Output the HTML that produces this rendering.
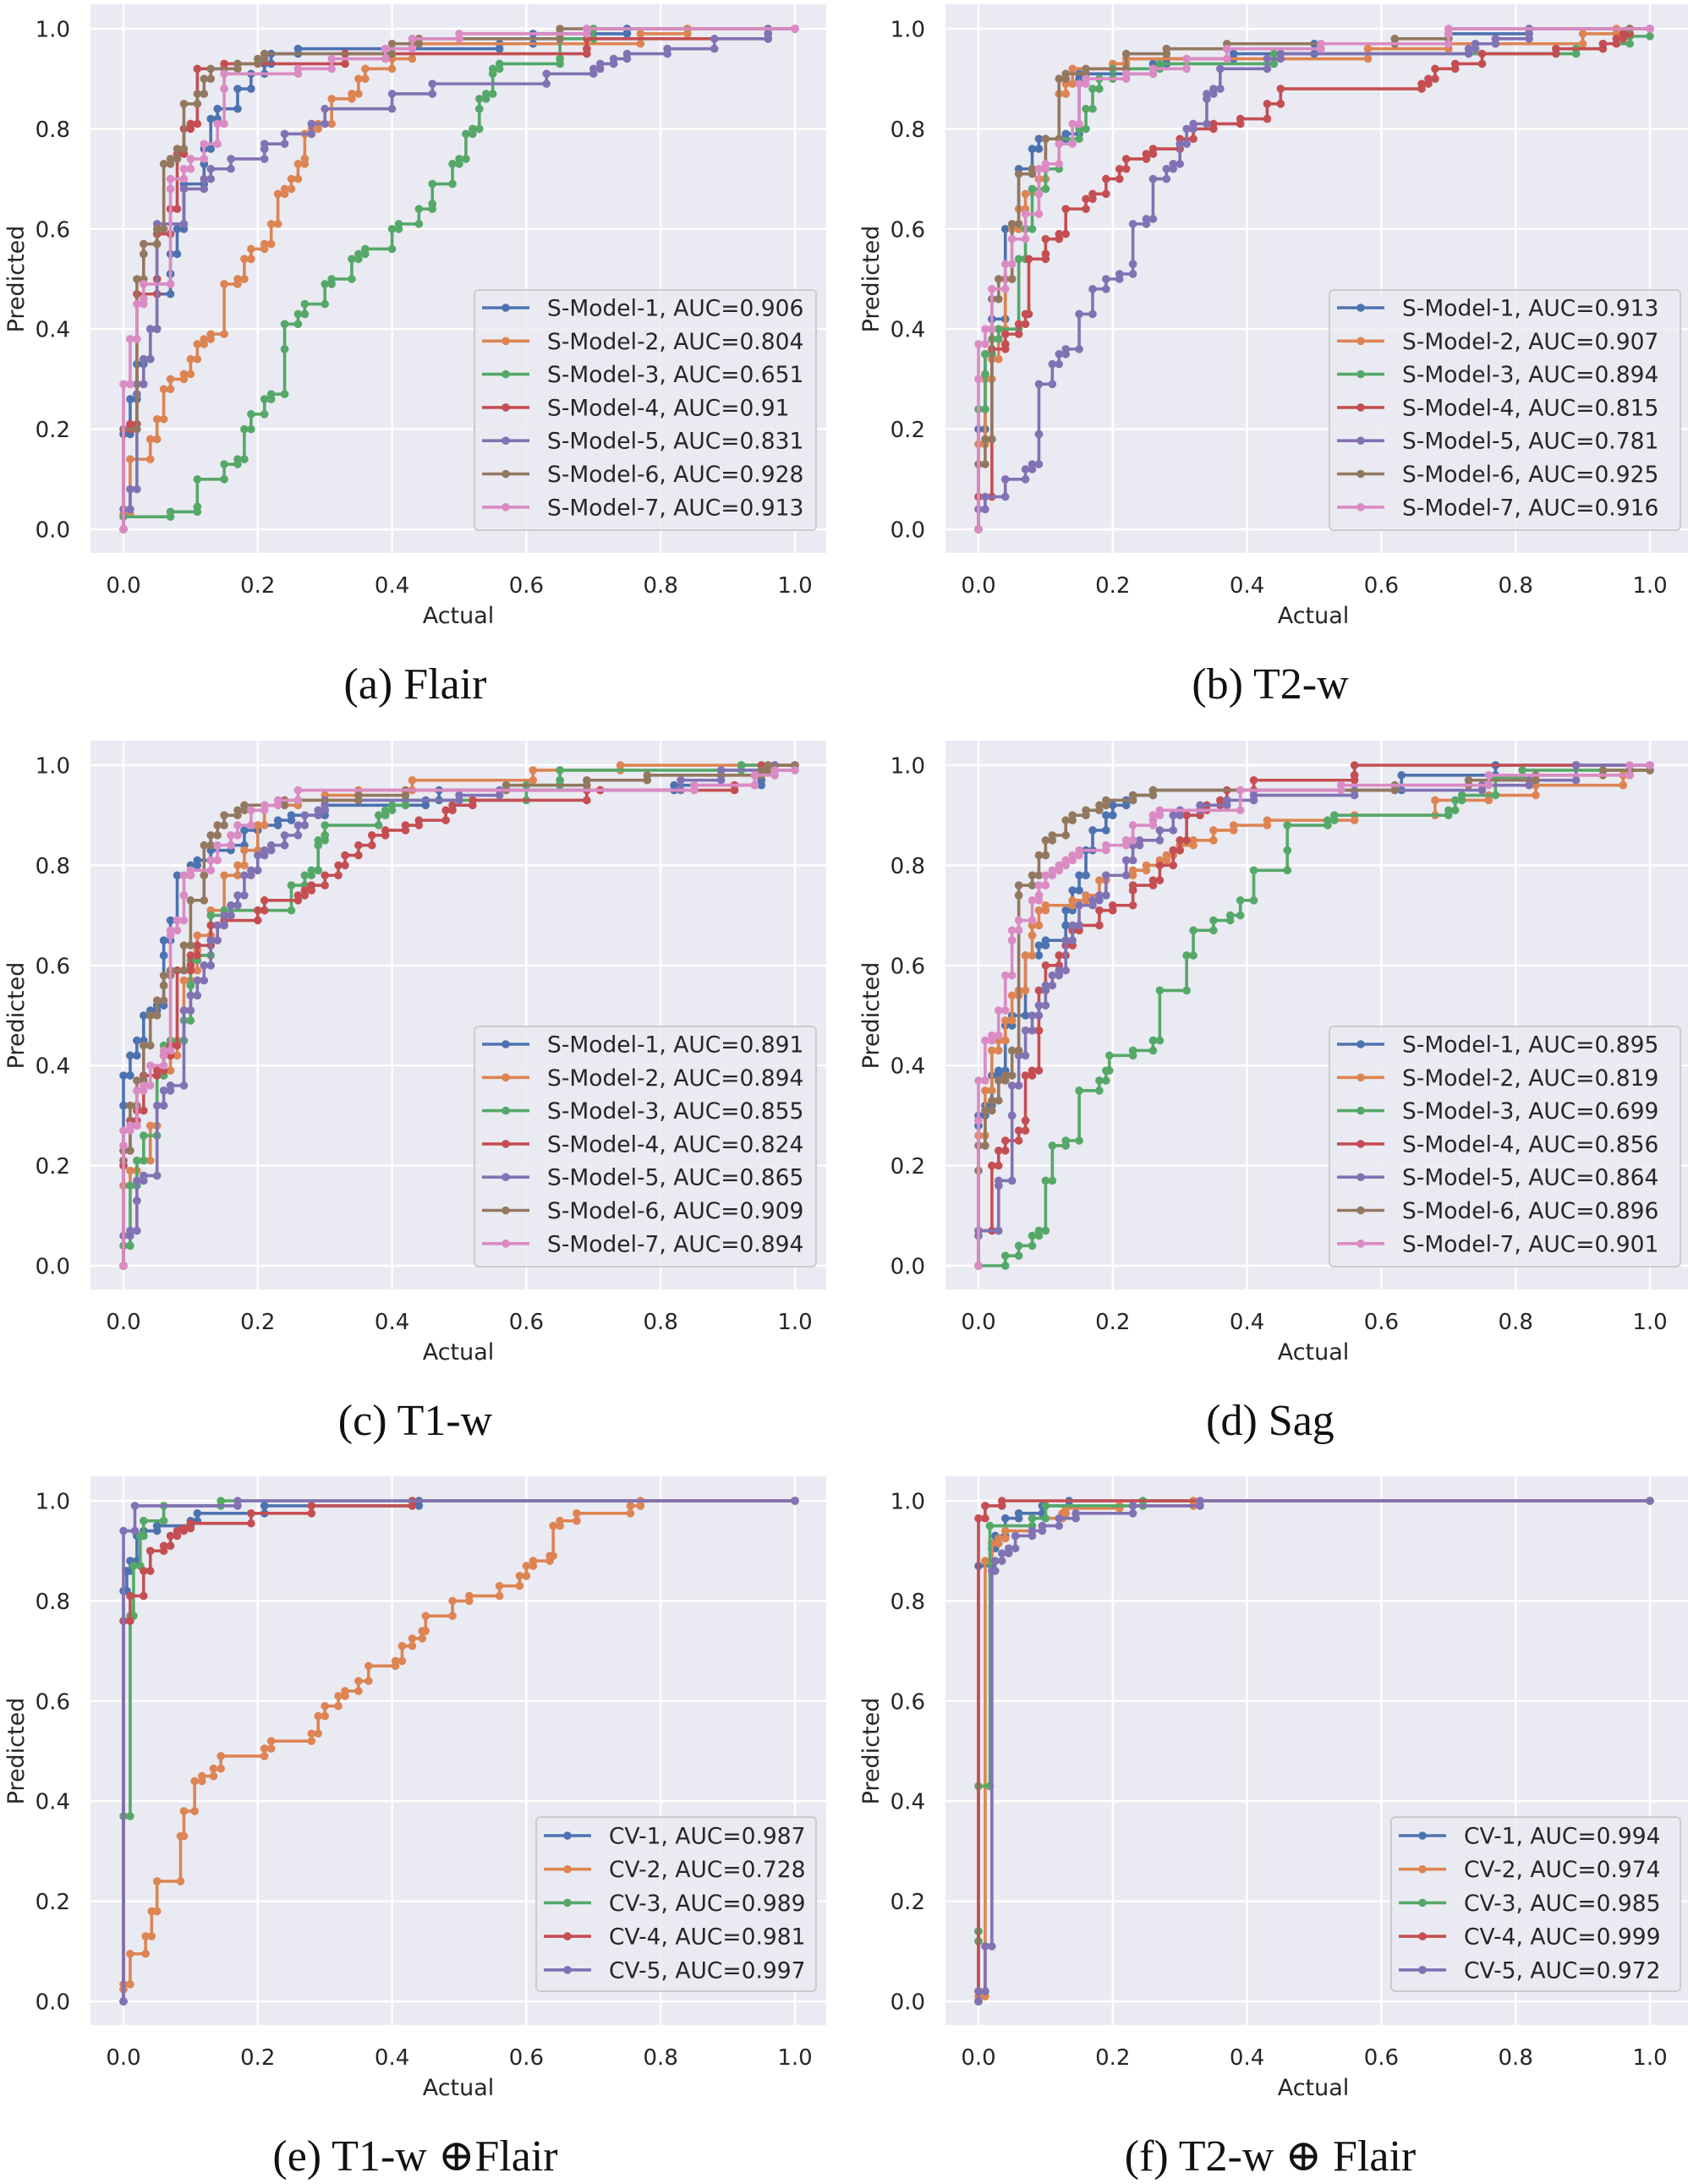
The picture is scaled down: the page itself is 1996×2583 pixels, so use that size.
<!DOCTYPE html>
<html><head><meta charset="utf-8"><title>ROC curves</title>
<style>html,body{margin:0;padding:0;background:#fff}svg{display:block}</style>
</head><body>
<svg id="fig" xmlns="http://www.w3.org/2000/svg" width="1996" height="2583" viewBox="0 0 1996 2583"></svg>
<script>
// ---- Panel (a) Flair ----
const flair_m1=[[0,0],[0.01,0.19],[0.02,0.26],[0.03,0.33],[0.04,0.34],[0.05,0.4],[0.07,0.47],[0.07,0.51],[0.08,0.55],[0.09,0.6],[0.12,0.69],[0.12,0.73],[0.13,0.76],[0.14,0.82],[0.17,0.84],[0.19,0.88],[0.21,0.91],[0.22,0.93],[0.26,0.95],[0.56,0.96],[0.61,0.97],[0.75,0.99],[0.75,1.0],[1,1]];
const flair_m2=[[0,0],[0.01,0.03],[0.04,0.14],[0.05,0.18],[0.06,0.22],[0.07,0.28],[0.09,0.3],[0.1,0.31],[0.11,0.34],[0.12,0.37],[0.13,0.38],[0.15,0.39],[0.17,0.49],[0.18,0.5],[0.19,0.54],[0.21,0.56],[0.22,0.57],[0.23,0.61],[0.24,0.67],[0.25,0.68],[0.26,0.7],[0.27,0.73],[0.27,0.74],[0.28,0.79],[0.29,0.8],[0.31,0.81],[0.34,0.86],[0.35,0.87],[0.36,0.9],[0.4,0.92],[0.43,0.94],[0.77,0.97],[0.84,0.99],[0.84,1.0],[1,1]];
const flair_m3=[[0,0],[0.07,0.025],[0.11,0.035],[0.11,0.045],[0.15,0.1],[0.17,0.13],[0.18,0.14],[0.19,0.2],[0.21,0.23],[0.22,0.26],[0.24,0.27],[0.24,0.36],[0.26,0.41],[0.27,0.43],[0.3,0.45],[0.31,0.49],[0.34,0.5],[0.35,0.54],[0.36,0.55],[0.4,0.56],[0.41,0.6],[0.44,0.61],[0.46,0.64],[0.46,0.65],[0.49,0.69],[0.5,0.73],[0.51,0.74],[0.52,0.79],[0.53,0.8],[0.53,0.84],[0.54,0.86],[0.55,0.87],[0.55,0.91],[0.56,0.92],[0.65,0.93],[0.65,0.94],[0.7,0.98],[1,1]];
const flair_m4=[[0,0],[0.01,0.2],[0.02,0.21],[0.05,0.47],[0.05,0.5],[0.07,0.59],[0.08,0.64],[0.09,0.75],[0.1,0.8],[0.11,0.81],[0.15,0.92],[0.33,0.93],[0.69,0.95],[0.69,0.96],[0.96,0.98],[0.96,0.99],[1,1]];
const flair_m5=[[0,0],[0.01,0.04],[0.02,0.08],[0.02,0.27],[0.03,0.29],[0.04,0.34],[0.05,0.4],[0.09,0.61],[0.12,0.68],[0.13,0.7],[0.16,0.72],[0.21,0.74],[0.21,0.76],[0.24,0.77],[0.28,0.79],[0.3,0.81],[0.4,0.84],[0.46,0.87],[0.63,0.89],[0.7,0.91],[0.71,0.92],[0.73,0.93],[0.75,0.94],[0.81,0.95],[0.88,0.96],[0.96,0.98],[0.96,0.99],[1,1]];
const flair_m6=[[0,0],[0.02,0.2],[0.03,0.5],[0.03,0.55],[0.05,0.57],[0.06,0.6],[0.07,0.73],[0.08,0.74],[0.09,0.76],[0.11,0.85],[0.12,0.87],[0.13,0.9],[0.17,0.92],[0.2,0.93],[0.21,0.94],[0.4,0.95],[0.44,0.97],[0.65,0.98],[0.65,0.99],[0.69,1.0],[1,1]];
const flair_m7=[[0,0],[0.01,0.29],[0.02,0.38],[0.03,0.45],[0.03,0.46],[0.07,0.49],[0.07,0.68],[0.09,0.7],[0.1,0.72],[0.12,0.74],[0.14,0.77],[0.15,0.81],[0.15,0.88],[0.26,0.91],[0.31,0.92],[0.39,0.94],[0.43,0.96],[0.5,0.98],[0.69,0.99],[0.69,1.0],[1,1]];
const flair_auc=["0.906","0.804","0.651","0.91","0.831","0.928","0.913"];
// ---- Panel (b) T2-w ----
const t2_m1=[[0,0],[0.01,0.2],[0.02,0.35],[0.04,0.42],[0.06,0.6],[0.08,0.72],[0.09,0.76],[0.13,0.78],[0.15,0.79],[0.15,0.9],[0.26,0.91],[0.28,0.93],[0.38,0.94],[0.5,0.95],[0.7,0.97],[0.7,0.98],[0.82,0.99],[1,1]];
const t2_m2=[[0,0],[0.01,0.17],[0.02,0.3],[0.03,0.34],[0.04,0.4],[0.05,0.5],[0.06,0.6],[0.07,0.64],[0.09,0.67],[0.1,0.7],[0.12,0.78],[0.13,0.87],[0.14,0.89],[0.2,0.92],[0.22,0.93],[0.58,0.94],[0.7,0.96],[0.9,0.97],[0.95,0.99],[1,1]];
const t2_m3=[[0,0],[0.01,0.24],[0.01,0.31],[0.02,0.35],[0.03,0.38],[0.06,0.4],[0.07,0.54],[0.08,0.6],[0.1,0.68],[0.12,0.72],[0.15,0.78],[0.16,0.8],[0.17,0.84],[0.18,0.88],[0.2,0.9],[0.27,0.92],[0.44,0.93],[0.89,0.95],[0.93,0.96],[0.97,0.97],[1,0.985]];
const t2_m4=[[0,0],[0.02,0.065],[0.04,0.36],[0.04,0.37],[0.06,0.39],[0.07,0.41],[0.075,0.43],[0.1,0.54],[0.1,0.55],[0.12,0.58],[0.13,0.59],[0.16,0.64],[0.17,0.66],[0.19,0.67],[0.21,0.7],[0.22,0.72],[0.25,0.74],[0.26,0.75],[0.3,0.76],[0.32,0.78],[0.35,0.8],[0.39,0.81],[0.43,0.82],[0.45,0.85],[0.66,0.88],[0.67,0.89],[0.68,0.9],[0.71,0.92],[0.75,0.93],[0.86,0.95],[0.93,0.96],[0.95,0.97],[0.96,0.98],[0.97,0.99],[1,1]];
const t2_m5=[[0,0],[0.01,0.04],[0.04,0.065],[0.07,0.1],[0.08,0.12],[0.09,0.13],[0.09,0.19],[0.11,0.29],[0.12,0.33],[0.13,0.35],[0.15,0.36],[0.17,0.43],[0.19,0.48],[0.21,0.5],[0.23,0.51],[0.23,0.53],[0.25,0.61],[0.26,0.62],[0.28,0.7],[0.29,0.72],[0.3,0.73],[0.31,0.77],[0.32,0.8],[0.34,0.81],[0.34,0.86],[0.35,0.87],[0.36,0.88],[0.43,0.92],[0.45,0.94],[0.73,0.95],[0.74,0.96],[0.77,0.97],[0.82,0.98],[0.82,0.99],[1,1]];
const t2_m6=[[0,0],[0.01,0.13],[0.02,0.18],[0.03,0.46],[0.05,0.5],[0.06,0.61],[0.08,0.71],[0.1,0.72],[0.12,0.78],[0.13,0.9],[0.16,0.91],[0.22,0.92],[0.28,0.95],[0.37,0.96],[0.62,0.97],[0.7,0.98],[0.7,0.99],[0.97,1.0],[1,1]];
const t2_m7=[[0,0],[0,0.3],[0.01,0.37],[0.02,0.4],[0.04,0.48],[0.05,0.53],[0.07,0.58],[0.09,0.63],[0.09,0.67],[0.1,0.72],[0.12,0.73],[0.14,0.77],[0.15,0.81],[0.16,0.89],[0.22,0.9],[0.26,0.91],[0.31,0.92],[0.37,0.94],[0.51,0.96],[0.7,0.97],[0.7,0.99],[1,1]];
const t2_auc=["0.913","0.907","0.894","0.815","0.781","0.925","0.916"];
// ---- Panel (c) T1-w ----
const t1_m1=[[0,0],[0,0.32],[0.01,0.38],[0.02,0.42],[0.03,0.45],[0.04,0.5],[0.05,0.51],[0.06,0.52],[0.06,0.62],[0.07,0.65],[0.08,0.69],[0.1,0.78],[0.11,0.8],[0.13,0.81],[0.16,0.83],[0.18,0.84],[0.2,0.87],[0.23,0.88],[0.25,0.89],[0.3,0.9],[0.3,0.91],[0.45,0.92],[0.47,0.93],[0.82,0.95],[0.95,0.96],[0.95,0.97],[1,0.99]];
const t1_m2=[[0,0],[0.01,0.16],[0.02,0.19],[0.04,0.21],[0.05,0.28],[0.06,0.38],[0.07,0.39],[0.08,0.42],[0.09,0.45],[0.1,0.57],[0.11,0.59],[0.11,0.63],[0.13,0.66],[0.15,0.71],[0.17,0.78],[0.18,0.8],[0.2,0.83],[0.21,0.88],[0.26,0.92],[0.3,0.93],[0.35,0.94],[0.43,0.95],[0.61,0.97],[0.74,0.99],[0.97,1.0],[1,1]];
const t1_m3=[[0,0],[0.01,0.04],[0.02,0.16],[0.03,0.21],[0.05,0.26],[0.06,0.38],[0.07,0.44],[0.09,0.45],[0.1,0.49],[0.1,0.56],[0.11,0.61],[0.13,0.62],[0.15,0.7],[0.25,0.71],[0.27,0.76],[0.28,0.78],[0.29,0.79],[0.29,0.84],[0.3,0.85],[0.3,0.86],[0.38,0.88],[0.39,0.9],[0.4,0.91],[0.42,0.92],[0.6,0.93],[0.65,0.96],[0.65,0.97],[0.92,0.99],[0.92,1.0],[1,1]];
const t1_m4=[[0,0],[0,0.2],[0.01,0.23],[0.02,0.29],[0.03,0.31],[0.05,0.38],[0.06,0.39],[0.07,0.42],[0.08,0.44],[0.1,0.59],[0.1,0.6],[0.11,0.62],[0.13,0.64],[0.15,0.68],[0.2,0.69],[0.21,0.71],[0.26,0.73],[0.27,0.74],[0.28,0.75],[0.3,0.76],[0.32,0.78],[0.33,0.8],[0.35,0.82],[0.37,0.84],[0.39,0.86],[0.42,0.87],[0.44,0.88],[0.48,0.89],[0.49,0.91],[0.52,0.92],[0.69,0.93],[0.71,0.95],[0.91,0.95],[0.94,0.96],[0.95,0.98],[1,1]];
const t1_m5=[[0,0],[0.01,0.06],[0.02,0.07],[0.02,0.13],[0.03,0.17],[0.05,0.18],[0.06,0.32],[0.07,0.35],[0.09,0.36],[0.1,0.51],[0.11,0.54],[0.12,0.57],[0.13,0.6],[0.14,0.65],[0.15,0.68],[0.16,0.7],[0.17,0.72],[0.18,0.74],[0.19,0.78],[0.2,0.79],[0.21,0.82],[0.22,0.83],[0.24,0.84],[0.26,0.86],[0.27,0.88],[0.29,0.9],[0.3,0.91],[0.3,0.92],[0.5,0.93],[0.56,0.94],[0.83,0.95],[0.89,0.97],[0.89,0.98],[0.96,0.99],[0.97,1.0],[1,1]];
const t1_m6=[[0,0],[0,0.21],[0.01,0.23],[0.02,0.32],[0.03,0.37],[0.04,0.44],[0.05,0.5],[0.06,0.53],[0.06,0.56],[0.07,0.58],[0.09,0.59],[0.1,0.64],[0.12,0.73],[0.12,0.78],[0.13,0.84],[0.14,0.86],[0.15,0.88],[0.17,0.9],[0.18,0.91],[0.24,0.92],[0.35,0.93],[0.42,0.94],[0.57,0.95],[0.69,0.96],[0.78,0.97],[0.95,0.98],[0.96,0.99],[1,1]];
const t1_m7=[[0,0],[0,0.24],[0.01,0.27],[0.02,0.28],[0.03,0.35],[0.04,0.36],[0.06,0.4],[0.06,0.42],[0.07,0.43],[0.07,0.66],[0.08,0.67],[0.09,0.69],[0.09,0.74],[0.1,0.78],[0.13,0.79],[0.14,0.81],[0.16,0.84],[0.17,0.86],[0.19,0.88],[0.21,0.91],[0.23,0.92],[0.26,0.93],[0.85,0.95],[0.94,0.96],[0.97,0.98],[1,0.99]];
const t1_auc=["0.891","0.894","0.855","0.824","0.865","0.909","0.894"];
// ---- Panel (d) Sag ----
const sag_m1=[[0,0],[0,0.28],[0.01,0.3],[0.02,0.32],[0.03,0.38],[0.04,0.39],[0.04,0.45],[0.05,0.48],[0.07,0.5],[0.09,0.62],[0.1,0.64],[0.13,0.65],[0.13,0.68],[0.14,0.71],[0.15,0.75],[0.16,0.78],[0.17,0.83],[0.19,0.87],[0.2,0.9],[0.22,0.92],[0.23,0.93],[0.26,0.94],[0.63,0.95],[0.77,0.98],[0.77,1.0],[1,1]];
const sag_m2=[[0,0],[0.01,0.26],[0.02,0.35],[0.03,0.43],[0.04,0.45],[0.05,0.49],[0.06,0.54],[0.07,0.55],[0.08,0.62],[0.08,0.66],[0.09,0.68],[0.1,0.71],[0.14,0.72],[0.16,0.73],[0.18,0.74],[0.19,0.77],[0.23,0.78],[0.25,0.79],[0.27,0.8],[0.28,0.81],[0.29,0.82],[0.3,0.83],[0.32,0.84],[0.35,0.85],[0.38,0.87],[0.43,0.88],[0.56,0.89],[0.68,0.9],[0.76,0.93],[0.83,0.94],[0.96,0.96],[0.97,0.98],[1,0.99]];
const sag_m3=[[0,0],[0.04,0],[0.06,0.02],[0.08,0.04],[0.09,0.06],[0.1,0.07],[0.11,0.17],[0.13,0.24],[0.15,0.25],[0.18,0.35],[0.19,0.37],[0.195,0.39],[0.23,0.42],[0.26,0.43],[0.27,0.45],[0.31,0.55],[0.32,0.62],[0.35,0.67],[0.375,0.69],[0.39,0.7],[0.41,0.73],[0.46,0.79],[0.46,0.83],[0.52,0.88],[0.53,0.89],[0.7,0.9],[0.71,0.91],[0.72,0.93],[0.77,0.94],[0.81,0.975],[1,0.99]];
const sag_m4=[[0,0],[0.02,0.07],[0.03,0.2],[0.04,0.23],[0.06,0.25],[0.07,0.27],[0.07,0.29],[0.08,0.38],[0.09,0.39],[0.09,0.47],[0.1,0.55],[0.12,0.6],[0.13,0.62],[0.14,0.64],[0.15,0.67],[0.18,0.68],[0.2,0.71],[0.23,0.72],[0.23,0.75],[0.26,0.76],[0.27,0.77],[0.29,0.8],[0.3,0.83],[0.31,0.85],[0.33,0.9],[0.34,0.91],[0.36,0.92],[0.37,0.93],[0.41,0.95],[0.56,0.97],[0.56,0.98],[0.89,1.0],[1,1]];
const sag_m5=[[0,0],[0,0.06],[0.03,0.07],[0.03,0.16],[0.05,0.17],[0.05,0.3],[0.06,0.36],[0.07,0.42],[0.08,0.47],[0.09,0.5],[0.1,0.52],[0.1,0.55],[0.11,0.56],[0.12,0.58],[0.13,0.59],[0.14,0.65],[0.15,0.68],[0.17,0.72],[0.18,0.73],[0.19,0.74],[0.22,0.78],[0.23,0.81],[0.24,0.84],[0.27,0.85],[0.29,0.87],[0.3,0.9],[0.33,0.91],[0.37,0.92],[0.41,0.93],[0.56,0.94],[0.75,0.95],[0.82,0.96],[0.89,0.97],[0.89,1.0],[1,1]];
const sag_m6=[[0,0],[0,0.19],[0.01,0.24],[0.02,0.31],[0.03,0.33],[0.04,0.37],[0.05,0.38],[0.06,0.43],[0.06,0.74],[0.08,0.76],[0.09,0.78],[0.1,0.82],[0.11,0.85],[0.13,0.86],[0.14,0.89],[0.16,0.9],[0.18,0.91],[0.19,0.92],[0.23,0.93],[0.26,0.94],[0.62,0.95],[0.73,0.96],[0.83,0.97],[0.93,0.98],[0.97,0.99],[1,0.99]];
const sag_m7=[[0,0],[0,0.29],[0.01,0.37],[0.02,0.45],[0.03,0.46],[0.04,0.51],[0.05,0.58],[0.05,0.65],[0.06,0.67],[0.08,0.69],[0.09,0.73],[0.09,0.74],[0.1,0.76],[0.11,0.78],[0.12,0.79],[0.13,0.8],[0.14,0.81],[0.15,0.82],[0.19,0.83],[0.22,0.84],[0.23,0.85],[0.26,0.88],[0.26,0.89],[0.27,0.9],[0.39,0.91],[0.54,0.95],[0.76,0.96],[0.97,0.98],[1,1]];
const sag_auc=["0.895","0.819","0.699","0.856","0.864","0.896","0.901"];
// ---- Panel (e) T1-w + Flair ----
const t1f_cv1=[[0,0],[0.005,0.82],[0.01,0.86],[0.02,0.88],[0.03,0.93],[0.05,0.94],[0.1,0.95],[0.11,0.96],[0.21,0.975],[0.44,0.99],[1,1]];
const t1f_cv2=[[0,0],[0,0.024],[0.01,0.034],[0.033,0.095],[0.042,0.13],[0.05,0.18],[0.085,0.24],[0.09,0.33],[0.106,0.38],[0.117,0.44],[0.134,0.45],[0.145,0.465],[0.21,0.49],[0.22,0.505],[0.28,0.52],[0.29,0.535],[0.3,0.57],[0.32,0.59],[0.33,0.61],[0.35,0.62],[0.365,0.64],[0.405,0.67],[0.415,0.68],[0.43,0.71],[0.445,0.725],[0.45,0.74],[0.49,0.77],[0.515,0.8],[0.56,0.81],[0.59,0.83],[0.6,0.85],[0.61,0.87],[0.635,0.88],[0.64,0.89],[0.65,0.95],[0.675,0.96],[0.755,0.975],[0.77,0.99],[1,1]];
const t1f_cv3=[[0,0],[0.01,0.37],[0.015,0.77],[0.025,0.87],[0.03,0.93],[0.06,0.96],[0.145,0.99],[1,1]];
const t1f_cv4=[[0,0],[0.01,0.76],[0.03,0.81],[0.04,0.86],[0.06,0.9],[0.07,0.91],[0.08,0.93],[0.09,0.94],[0.1,0.945],[0.19,0.955],[0.28,0.975],[0.43,0.99],[1,1]];
const t1f_cv5=[[0,0],[0.017,0.94],[0.17,0.99],[1,1]];
const t1f_auc=["0.987","0.728","0.989","0.981","0.997"];
// ---- Panel (f) T2-w + Flair ----
const t2f_cv1=[[0,0],[0.02,0.87],[0.025,0.905],[0.04,0.93],[0.06,0.965],[0.095,0.975],[0.135,0.99],[1,1]];
const t2f_cv2=[[0,0],[0.01,0.01],[0.02,0.88],[0.03,0.915],[0.04,0.925],[0.08,0.94],[0.125,0.965],[0.13,0.975],[0.21,0.985],[0.32,0.99],[1,1]];
const t2f_cv3=[[0,0],[0,0.12],[0,0.14],[0.017,0.43],[0.08,0.95],[0.1,0.965],[0.245,0.99],[1,1]];
const t2f_cv4=[[0,0],[0,0.02],[0.01,0.965],[0.035,0.99],[1,1]];
const t2f_cv5=[[0,0],[0.01,0.02],[0.02,0.11],[0.025,0.86],[0.035,0.88],[0.045,0.895],[0.055,0.905],[0.08,0.93],[0.095,0.94],[0.12,0.95],[0.145,0.965],[0.23,0.975],[0.33,0.99],[1,1]];
const t2f_auc=["0.994","0.974","0.985","0.999","0.972"];

const tickVals=[0,0.2,0.4,0.6,0.8,1.0];
const tickLabels=["0.0","0.2","0.4","0.6","0.8","1.0"];
const colors=["#4c72b0","#dd8452","#55a868","#c44e52","#8172b3","#937860","#da8bc3"];

const NS="http://www.w3.org/2000/svg";
const svg=document.getElementById('fig');
function mk(tag,attrs,parent){const e=document.createElementNS(NS,tag);for(const k in attrs)e.setAttribute(k,attrs[k]);(parent||svg).appendChild(e);return e;}
mk('rect',{x:0,y:0,width:1996,height:2583,fill:'#ffffff'});

const colX=[0,1011], rowY=[0,871,1741];
function panel(col,row,series,aucs,prefix,caption,key){
  const ox=colX[col], oy=rowY[row];
  const sx=v=>ox+146+v*794, sy=v=>oy+626-v*592;
  const g=mk('g',{});
  
  
  const bg=mk('rect',{x:ox+107,y:oy+5,width:col?879:870,height:649,fill:'#eaeaf2'},g);
  
  
  tickVals.forEach((v,i)=>{
    const gx=mk('line',{x1:sx(v),x2:sx(v),y1:oy+5,y2:oy+654,stroke:'#fff','stroke-width':2.4},g);
    
    
    const gy=mk('line',{x1:ox+107,x2:ox+(col?986:977),y1:sy(v),y2:sy(v),stroke:'#fff','stroke-width':2.4},g);
    
    
    const tx=mk('text',{x:sx(v),y:oy+701,'text-anchor':'middle','font-size':26,fill:'#262626','font-family':'DejaVu Sans, Liberation Sans, sans-serif'},g);
    tx.textContent=tickLabels[i];
    
    
    const ty=mk('text',{x:ox+83,y:sy(v)+9.5,'text-anchor':'end','font-size':26,fill:'#262626','font-family':'DejaVu Sans, Liberation Sans, sans-serif'},g);
    ty.textContent=tickLabels[i];
    
    
  });
  const xl=mk('text',{x:ox+542,y:oy+737,'text-anchor':'middle','font-size':27,fill:'#262626','font-family':'DejaVu Sans, Liberation Sans, sans-serif'},g);
  xl.textContent='Actual';
  
  
  const yl=mk('text',{x:0,y:0,transform:`translate(${ox+28},${oy+330}) rotate(-90)`,'text-anchor':'middle','font-size':27,fill:'#262626','font-family':'DejaVu Sans, Liberation Sans, sans-serif'},g);
  yl.textContent='Predicted';
  
  
  series.forEach((pts,si)=>{
    let d=`M${sx(pts[0][0])},${sy(pts[0][1])}`;
    const marks=[[pts[0][0],pts[0][1]]];
    for(let i=1;i<pts.length;i++){
      const px=pts[i-1][0];
      d+=` L${sx(px)},${sy(pts[i][1])} L${sx(pts[i][0])},${sy(pts[i][1])}`;
      marks.push([px,pts[i][1]]);marks.push([pts[i][0],pts[i][1]]);
    }
    const p=mk('path',{d:d,fill:'none',stroke:colors[si],'stroke-width':3.6,'stroke-linejoin':'round'},g);
    
    
    marks.forEach(m=>{
      const c=mk('circle',{cx:sx(m[0]),cy:sy(m[1]),r:4.8,fill:colors[si]},g);
      
      
    });
  });
  const n=series.length;
  const lx=ox+(n===7?561:634), lr=ox+965+(col?11:0);
  const top=oy+(n===7?343:408), bot=oy+(n===7?627:614);
  const first=oy+(n===7?364:430), step=n===7?39.3:39.7;
  const lg=mk('g',{},g);
  
  
  mk('rect',{x:lx,y:top,width:lr-lx,height:bot-top,rx:5,fill:'#eaeaf2','fill-opacity':0.85,stroke:'#cccccc','stroke-width':2},lg);
  for(let i=0;i<n;i++){
    const y=first+i*step;
    const e=mk('g',{},lg);
    
    
    mk('line',{x1:lx+9,x2:lx+65,y1:y,y2:y,stroke:colors[i],'stroke-width':3.6},e);
    mk('circle',{cx:lx+37,cy:y,r:4.8,fill:colors[i]},e);
    const label=prefix+(i+1)+', AUC='+aucs[i];
    const t=mk('text',{x:lx+86,y:y+9.5,'font-size':26.5,fill:'#262626','font-family':'DejaVu Sans, Liberation Sans, sans-serif'},e);
    t.textContent=label;
  }
  const cap=mk('text',{x:ox+491,y:oy+826,'text-anchor':'middle','font-size':52,fill:'#111','font-family':'Liberation Serif, DejaVu Serif, serif'},g);
  cap.textContent=caption;
  
  
}
panel(0,0,[flair_m1,flair_m2,flair_m3,flair_m4,flair_m5,flair_m6,flair_m7],flair_auc,'S-Model-','(a) Flair','flair');
panel(1,0,[t2_m1,t2_m2,t2_m3,t2_m4,t2_m5,t2_m6,t2_m7],t2_auc,'S-Model-','(b) T2-w','t2w');
panel(0,1,[t1_m1,t1_m2,t1_m3,t1_m4,t1_m5,t1_m6,t1_m7],t1_auc,'S-Model-','(c) T1-w','t1w');
panel(1,1,[sag_m1,sag_m2,sag_m3,sag_m4,sag_m5,sag_m6,sag_m7],sag_auc,'S-Model-','(d) Sag','sag');
panel(0,2,[t1f_cv1,t1f_cv2,t1f_cv3,t1f_cv4,t1f_cv5],t1f_auc,'CV-','(e) T1-w \u2295Flair','t1w-flair');
panel(1,2,[t2f_cv1,t2f_cv2,t2f_cv3,t2f_cv4,t2f_cv5],t2f_auc,'CV-','(f) T2-w \u2295 Flair','t2w-flair');
</script>
</body></html>
